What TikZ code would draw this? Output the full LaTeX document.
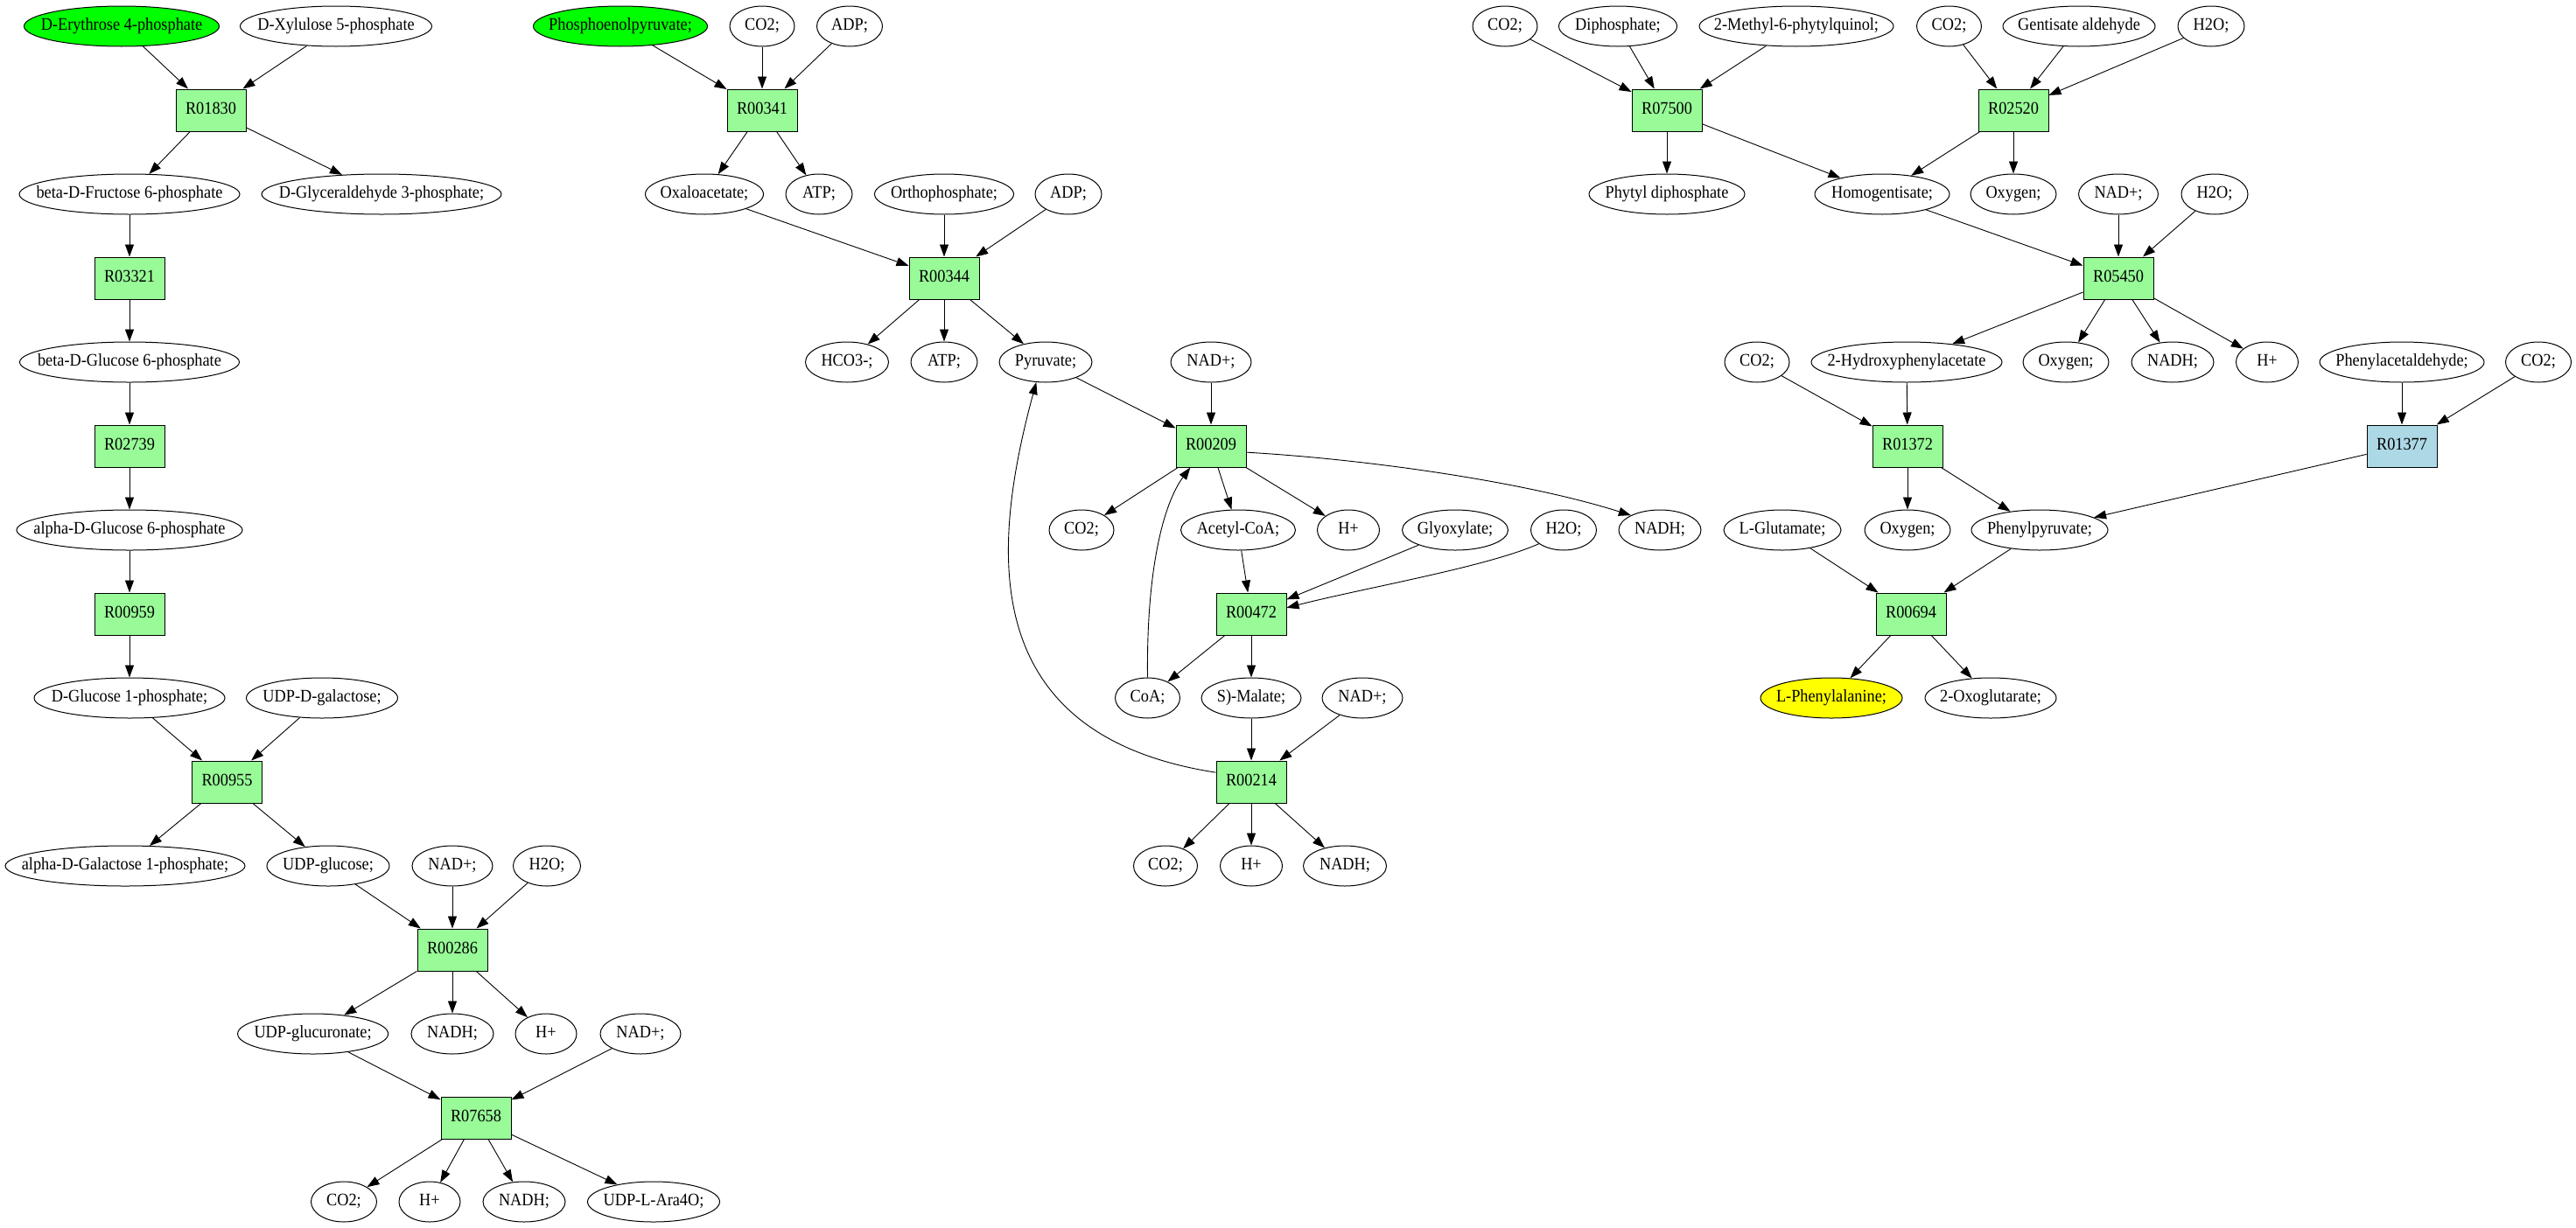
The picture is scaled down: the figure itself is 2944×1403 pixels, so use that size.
\documentclass[tikz,border=0pt]{standalone}
\usepackage{fontspec}
\setmainfont{Liberation Serif}
\usetikzlibrary{arrows.meta,shapes.geometric}
\definecolor{rxg}{HTML}{98FB98}
\definecolor{rxb}{HTML}{ADD8E6}
\definecolor{srcg}{HTML}{00FF00}
\definecolor{tgty}{HTML}{FFFF00}
\newcommand\lbl[1]{\makebox[0pt]{\rule[-4pt]{0pt}{17.6pt}\smash{\scalebox{1}[1.1]{#1}}}}
\begin{document}
\begin{tikzpicture}[x=1pt,y=-1pt,
 txt/.style={font=\fontsize{18.3}{22}\selectfont},
 met/.style={ellipse,draw,line width=1pt,inner sep=0pt,minimum height=46pt,minimum width=#1,txt},
 src/.style={met=#1,fill=srcg},
 tgt/.style={met=#1,fill=tgty},
 rxn/.style={rectangle,draw,line width=1pt,fill=rxg,inner sep=0pt,minimum width=80pt,minimum height=48pt,txt},
 rxnb/.style={rxn,fill=rxb},
 arr/.style={line width=0.9pt,-{Triangle[length=14pt,width=10pt]}}]
\path[fill=white,use as bounding box] (0,0) rectangle (2944,1403);

% ---------- left cluster ----------
\node[src=223pt] (e4p) at (139,30) {\lbl{D-Erythrose 4-phosphate}};
\node[met=219pt] (x5p) at (384,30) {\lbl{D-Xylulose 5-phosphate}};
\node[rxn] (r01830) at (241,126) {\lbl{R01830}};
\node[met=252pt] (bf6p) at (148,222) {\lbl{beta-D-Fructose 6-phosphate}};
\node[met=274pt] (g3p) at (436,222) {\lbl{D-Glyceraldehyde 3-phosphate;}};
\node[rxn] (r03321) at (148,318) {\lbl{R03321}};
\node[met=251pt] (bg6p) at (148,414) {\lbl{beta-D-Glucose 6-phosphate}};
\node[rxn] (r02739) at (148,510) {\lbl{R02739}};
\node[met=258pt] (ag6p) at (148,606) {\lbl{alpha-D-Glucose 6-phosphate}};
\node[rxn] (r00959) at (148,702) {\lbl{R00959}};
\node[met=218pt] (g1p) at (148,798) {\lbl{D-Glucose 1-phosphate;}};
\node[met=173pt] (udpgal) at (368,798) {\lbl{UDP-D-galactose;}};
\node[rxn] (r00955) at (259.5,894) {\lbl{R00955}};
\node[met=274pt] (agal1p) at (143,990) {\lbl{alpha-D-Galactose 1-phosphate;}};
\node[met=140pt] (udpglc) at (375,990) {\lbl{UDP-glucose;}};
\node[met=92pt] (nadA) at (517,990) {\lbl{NAD+;}};
\node[met=77pt] (h2oA) at (625,990) {\lbl{H2O;}};
\node[rxn] (r00286) at (517,1086) {\lbl{R00286}};
\node[met=172pt] (udpglca) at (357.6,1182) {\lbl{UDP-glucuronate;}};
\node[met=94pt] (nadhA) at (517,1182) {\lbl{NADH;}};
\node[met=70pt] (hA) at (624,1182) {\lbl{H+}};
\node[met=92pt] (nadB) at (732,1182) {\lbl{NAD+;}};
\node[rxn] (r07658) at (544,1278) {\lbl{R07658}};
\node[met=75pt] (co2A) at (393,1374) {\lbl{CO2;}};
\node[met=70pt] (hB) at (491,1374) {\lbl{H+}};
\node[met=94pt] (nadhB) at (599,1374) {\lbl{NADH;}};
\node[met=151pt] (ara) at (747,1374) {\lbl{UDP-L-Ara4O;}};

% ---------- middle cluster ----------
\node[src=199pt] (pep) at (709,30) {\lbl{Phosphoenolpyruvate;}};
\node[met=74pt] (co2B) at (871,30) {\lbl{CO2;}};
\node[met=75pt] (adpA) at (971,30) {\lbl{ADP;}};
\node[rxn] (r00341) at (871,126) {\lbl{R00341}};
\node[met=135pt] (oaa) at (805,222) {\lbl{Oxaloacetate;}};
\node[met=76pt] (atpA) at (936,222) {\lbl{ATP;}};
\node[met=159pt] (pi) at (1079,222) {\lbl{Orthophosphate;}};
\node[met=76pt] (adpB) at (1221,222) {\lbl{ADP;}};
\node[rxn] (r00344) at (1079,318) {\lbl{R00344}};
\node[met=95pt] (hco3) at (968,414) {\lbl{HCO3-;}};
\node[met=76pt] (atpB) at (1079,414) {\lbl{ATP;}};
\node[met=106pt] (pyr) at (1195,414) {\lbl{Pyruvate;}};
\node[met=92pt] (nadC) at (1384,414) {\lbl{NAD+;}};
\node[rxn] (r00209) at (1384,510) {\lbl{R00209}};
\node[met=74pt] (co2C) at (1236,606) {\lbl{CO2;}};
\node[met=131pt] (accoa) at (1415,606) {\lbl{Acetyl-CoA;}};
\node[met=71pt] (hC) at (1541,606) {\lbl{H+}};
\node[met=121pt] (glyox) at (1663,606) {\lbl{Glyoxylate;}};
\node[met=75pt] (h2oB) at (1787,606) {\lbl{H2O;}};
\node[met=94pt] (nadhC) at (1897,606) {\lbl{NADH;}};
\node[rxn] (r00472) at (1430,702) {\lbl{R00472}};
\node[met=74pt] (coa) at (1311.5,798) {\lbl{CoA;}};
\node[met=114pt] (mal) at (1430,798) {\lbl{S)-Malate;}};
\node[met=92pt] (nadD) at (1557,798) {\lbl{NAD+;}};
\node[rxn] (r00214) at (1430,894) {\lbl{R00214}};
\node[met=73pt] (co2D) at (1332,990) {\lbl{CO2;}};
\node[met=71pt] (hD) at (1430,990) {\lbl{H+}};
\node[met=95pt] (nadhD) at (1537,990) {\lbl{NADH;}};

% ---------- right cluster ----------
\node[met=74pt] (co2E) at (1720,30) {\lbl{CO2;}};
\node[met=135pt] (ppi) at (1849,30) {\lbl{Diphosphate;}};
\node[met=222pt] (mpq) at (2053,30) {\lbl{2-Methyl-6-phytylquinol;}};
\node[met=74pt] (co2F) at (2227.5,30) {\lbl{CO2;}};
\node[met=174pt] (gald) at (2376,30) {\lbl{Gentisate aldehyde}};
\node[met=76pt] (h2oC) at (2527,30) {\lbl{H2O;}};
\node[rxn] (r07500) at (1905,126) {\lbl{R07500}};
\node[rxn] (r02520) at (2301,126) {\lbl{R02520}};
\node[met=178pt] (phpp) at (1905,222) {\lbl{Phytyl diphosphate}};
\node[met=154pt] (hga) at (2151,222) {\lbl{Homogentisate;}};
\node[met=98pt] (o2A) at (2301,222) {\lbl{Oxygen;}};
\node[met=91pt] (nadE) at (2421,222) {\lbl{NAD+;}};
\node[met=76pt] (h2oD) at (2531,222) {\lbl{H2O;}};
\node[rxn] (r05450) at (2421,318) {\lbl{R05450}};
\node[met=74pt] (co2G) at (2008,414) {\lbl{CO2;}};
\node[met=218pt] (hpa) at (2179,414) {\lbl{2-Hydroxyphenylacetate}};
\node[met=98pt] (o2B) at (2361,414) {\lbl{Oxygen;}};
\node[met=94pt] (nadhE) at (2483,414) {\lbl{NADH;}};
\node[met=71pt] (hE) at (2591,414) {\lbl{H+}};
\node[met=188pt] (pacald) at (2745,414) {\lbl{Phenylacetaldehyde;}};
\node[met=75pt] (co2H) at (2901,414) {\lbl{CO2;}};
\node[rxn] (r01372) at (2180,510) {\lbl{R01372}};
\node[rxnb] (r01377) at (2745,510) {\lbl{R01377}};
\node[met=134pt] (glu) at (2037,606) {\lbl{L-Glutamate;}};
\node[met=98pt] (o2C) at (2180,606) {\lbl{Oxygen;}};
\node[met=156pt] (ppyr) at (2331,606) {\lbl{Phenylpyruvate;}};
\node[rxn] (r00694) at (2184,702) {\lbl{R00694}};
\node[tgt=162pt] (phe) at (2093,798) {\lbl{L-Phenylalanine;}};
\node[met=150pt] (akg) at (2275,798) {\lbl{2-Oxoglutarate;}};

% ---------- edges: left ----------
\draw[arr] (e4p) -- (r01830);
\draw[arr] (x5p) -- (r01830);
\draw[arr] (r01830) -- (bf6p);
\draw[arr] (r01830) -- (g3p);
\draw[arr] (bf6p) -- (r03321);
\draw[arr] (r03321) -- (bg6p);
\draw[arr] (bg6p) -- (r02739);
\draw[arr] (r02739) -- (ag6p);
\draw[arr] (ag6p) -- (r00959);
\draw[arr] (r00959) -- (g1p);
\draw[arr] (g1p) -- (r00955);
\draw[arr] (udpgal) -- (r00955);
\draw[arr] (r00955) -- (agal1p);
\draw[arr] (r00955) -- (udpglc);
\draw[arr] (udpglc) -- (r00286);
\draw[arr] (nadA) -- (r00286);
\draw[arr] (h2oA) -- (r00286);
\draw[arr] (r00286) -- (udpglca);
\draw[arr] (r00286) -- (nadhA);
\draw[arr] (r00286) -- (hA);
\draw[arr] (udpglca) -- (r07658);
\draw[arr] (nadB) -- (r07658);
\draw[arr] (r07658) -- (co2A);
\draw[arr] (r07658) -- (hB);
\draw[arr] (r07658) -- (nadhB);
\draw[arr] (r07658) -- (ara);

% ---------- edges: middle ----------
\draw[arr] (pep) -- (r00341);
\draw[arr] (co2B) -- (r00341);
\draw[arr] (adpA) -- (r00341);
\draw[arr] (r00341) -- (oaa);
\draw[arr] (r00341) -- (atpA);
\draw[arr] (oaa) -- (r00344);
\draw[arr] (pi) -- (r00344);
\draw[arr] (adpB) -- (r00344);
\draw[arr] (r00344) -- (hco3);
\draw[arr] (r00344) -- (atpB);
\draw[arr] (r00344) -- (pyr);
\draw[arr] (pyr) -- (r00209);
\draw[arr] (nadC) -- (r00209);
\draw[arr] (coa.north) .. controls (1310,650) and (1330,575) .. (r00209.226);
\draw[arr] (r00209) -- (co2C);
\draw[arr] (r00209) -- (accoa);
\draw[arr] (r00209) -- (hC);
\draw[arr] (r00209.-10) .. controls (1560,525) and (1740,550) .. (nadhC.153);
\draw[arr] (accoa) -- (r00472);
\draw[arr] (glyox) -- (r00472);
\draw[arr] (h2oB.209) .. controls (1700,648) and (1560,672) .. (r00472.10);
\draw[arr] (r00472) -- (coa);
\draw[arr] (r00472) -- (mal);
\draw[arr] (mal) -- (r00214);
\draw[arr] (nadD) -- (r00214);
\draw[arr] (r00214.165) .. controls (1110,840) and (1135,620) .. (pyr.245);
\draw[arr] (r00214) -- (co2D);
\draw[arr] (r00214) -- (hD);
\draw[arr] (r00214) -- (nadhD);

% ---------- edges: right ----------
\draw[arr] (co2E) -- (r07500);
\draw[arr] (ppi) -- (r07500);
\draw[arr] (mpq) -- (r07500);
\draw[arr] (co2F) -- (r02520);
\draw[arr] (gald) -- (r02520);
\draw[arr] (h2oC) -- (r02520);
\draw[arr] (r07500) -- (phpp);
\draw[arr] (r07500) -- (hga);
\draw[arr] (r02520) -- (hga);
\draw[arr] (r02520) -- (o2A);
\draw[arr] (hga) -- (r05450);
\draw[arr] (nadE) -- (r05450);
\draw[arr] (h2oD) -- (r05450);
\draw[arr] (r05450) -- (hpa);
\draw[arr] (r05450) -- (o2B);
\draw[arr] (r05450) -- (nadhE);
\draw[arr] (r05450) -- (hE);
\draw[arr] (co2G) -- (r01372);
\draw[arr] (hpa) -- (r01372);
\draw[arr] (pacald) -- (r01377);
\draw[arr] (co2H) -- (r01377);
\draw[arr] (r01372) -- (o2C);
\draw[arr] (r01372) -- (ppyr);
\draw[arr] (r01377) -- (ppyr);
\draw[arr] (glu) -- (r00694);
\draw[arr] (ppyr) -- (r00694);
\draw[arr] (r00694) -- (phe);
\draw[arr] (r00694) -- (akg);
\end{tikzpicture}
\end{document}
